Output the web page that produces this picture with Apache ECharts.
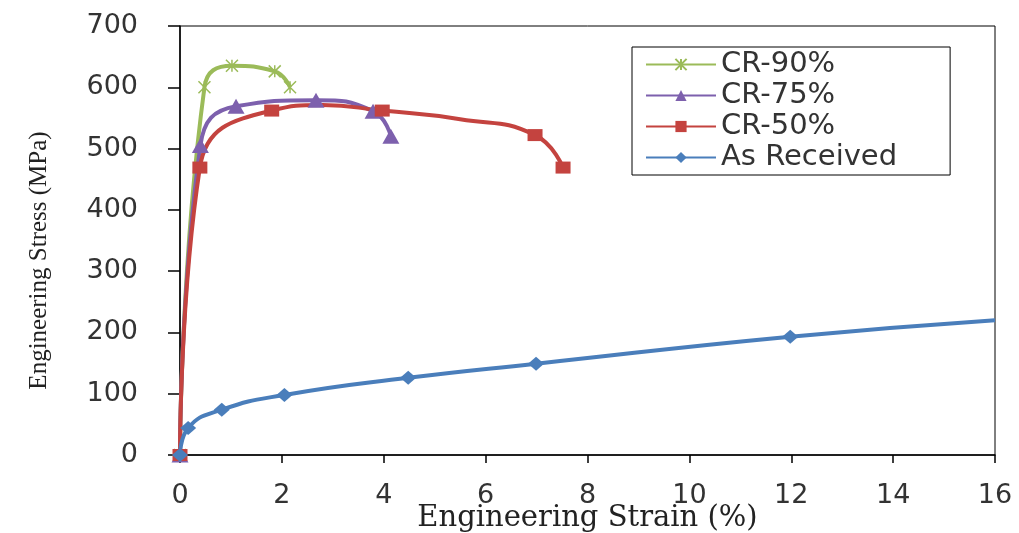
<!DOCTYPE html>
<html>
<head>
<meta charset="utf-8">
<script src="https://cdn.jsdelivr.net/npm/echarts@6/dist/echarts.min.js"></script>
<style>
  html, body { margin: 0; padding: 0; background: #fff; }
  #chart { width: 1019px; height: 533px; }
</style>
</head>
<body>
<div id="chart"></div>
<script>
// strain (%) / stress (MPa)
// points with a 0 marker flag are extra spots read on the curve between markers
const cr90Strain = [0, 0.48, 1.02, 1.86, 2.16];
const cr90Stress = [0, 600, 635, 626, 600];
const cr90Marker = [1, 1, 1, 1, 1];

const cr75Strain = [0, 0.4, 1.1, 2.67, 3.79, 4.14];
const cr75Stress = [0, 505, 569, 579, 561, 520];
const cr75Marker = [1, 1, 1, 1, 1, 1];

const cr50Strain = [0, 0.39, 1.8, 2.8, 3.97, 5.5, 6.97, 7.52];
const cr50Stress = [0, 469, 562, 571, 562, 548, 522, 469];
const cr50Marker = [1, 1, 1, 0, 1, 0, 1, 1];

const asRecStrain = [0, 0.16, 0.82, 2.05, 4.48, 6.99, 11.98, 16];
const asRecStress = [0, 44, 74, 98, 126, 149, 193, 220];
const asRecMarker = [1, 1, 1, 1, 1, 1, 1, 0];

const xTicks = [0, 2, 4, 6, 8, 10, 12, 14, 16];
const yTicks = [0, 100, 200, 300, 400, 500, 600, 700];

const seriesNames = ['CR-90%', 'CR-75%', 'CR-50%', 'As Received'];

const asterisk = 'path://M0,0L10,10M10,0L0,10M5,0L5,10';

function points(xs, ys, marks) {
  return xs.map((x, i) => marks[i] ? [x, ys[i]] : { value: [x, ys[i]], symbol: 'none' });
}

var myChart = echarts.init(document.getElementById('chart'));

var option = {
  animation: false,
  grid: {
    left: 180,
    right: 24,
    top: 26,
    bottom: 78,
    outerBoundsMode: 'none',
    show: true,
    borderColor: '#000',
    borderWidth: 1
  },
  legend: {
    orient: 'vertical',
    left: 632,
    top: 47,
    padding: [3, 53, 3, 13],
    itemWidth: 70,
    itemHeight: 14,
    itemGap: 2,
    borderColor: '#000',
    borderWidth: 1,
    backgroundColor: '#fff',
    data: seriesNames,
    textStyle: {
      fontFamily: 'DejaVu Sans',
      fontSize: 29,
      color: '#333',
      lineHeight: 29
    }
  },
  xAxis: {
    type: 'value',
    min: xTicks[0],
    max: xTicks[xTicks.length - 1],
    interval: 2,
    name: 'Engineering Strain (%)',
    nameLocation: 'middle',
    nameGap: 49,
    nameMoveOverlap: false,
    nameTextStyle: {
      fontFamily: 'DejaVu Serif',
      fontSize: 29,
      color: '#222'
    },
    axisLine: { lineStyle: { color: '#000', width: 1.5 } },
    axisTick: { show: true, length: 8, lineStyle: { color: '#000', width: 1.5 } },
    axisLabel: {
      margin: 27,
      fontFamily: 'DejaVu Sans',
      fontSize: 27,
      color: '#333'
    },
    splitLine: { show: false }
  },
  yAxis: {
    type: 'value',
    min: yTicks[0],
    max: yTicks[yTicks.length - 1],
    interval: 100,
    name: 'Engineering Stress (MPa)',
    nameLocation: 'middle',
    nameGap: 128,
    nameMoveOverlap: false,
    nameRotate: 90,
    nameTextStyle: {
      fontFamily: 'Liberation Serif',
      fontSize: 25,
      color: '#222',
      padding: [0, 40, 0, 0]
    },
    axisLine: { show: true, lineStyle: { color: '#000', width: 1.5 } },
    axisTick: { show: true, length: 12, lineStyle: { color: '#000', width: 1.5 } },
    axisLabel: {
      margin: 42,
      fontFamily: 'DejaVu Sans',
      fontSize: 27,
      color: '#333'
    },
    splitLine: { show: false }
  },
  series: [
    {
      name: seriesNames[0],
      type: 'line',
      smooth: 0.5,
      data: points(cr90Strain, cr90Stress, cr90Marker),
      symbol: asterisk,
      symbolSize: 12,
      lineStyle: { color: '#9bbb59', width: 4 },
      itemStyle: { color: '#9bbb59', borderColor: '#9bbb59', borderWidth: 1.5 }
    },
    {
      name: seriesNames[1],
      type: 'line',
      smooth: 0.5,
      data: points(cr75Strain, cr75Stress, cr75Marker),
      symbol: 'triangle',
      symbolSize: [17, 15],
      lineStyle: { color: '#7d60ad', width: 4 },
      itemStyle: { color: '#7d60ad' }
    },
    {
      name: seriesNames[2],
      type: 'line',
      smooth: 0.5,
      data: points(cr50Strain, cr50Stress, cr50Marker),
      symbol: 'rect',
      symbolSize: [15, 12],
      lineStyle: { color: '#c4433f', width: 4 },
      itemStyle: { color: '#c4433f' }
    },
    {
      name: seriesNames[3],
      type: 'line',
      smooth: 0.5,
      data: points(asRecStrain, asRecStress, asRecMarker),
      symbol: 'diamond',
      symbolSize: [16, 14],
      lineStyle: { color: '#4a7ebb', width: 4 },
      itemStyle: { color: '#4a7ebb' }
    }
  ]
};
option && myChart.setOption(option);
</script>
</body>
</html>
